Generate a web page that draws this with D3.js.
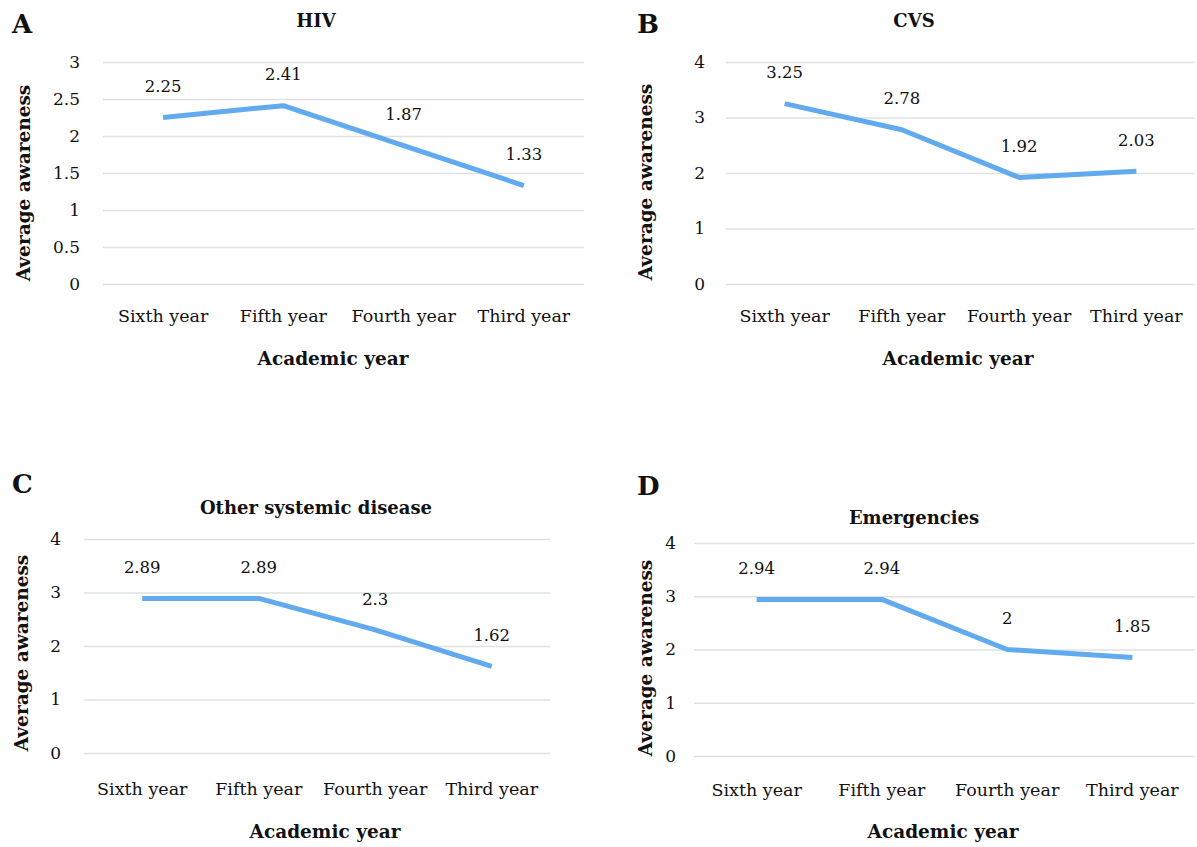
<!DOCTYPE html>
<html>
<head>
<meta charset="utf-8">
<script src="https://cdn.jsdelivr.net/npm/d3@7"></script>
<style>
    body { margin: 0; background: #ffffff; }
    svg text { font-family: "DejaVu Serif", serif; fill: #111; }
    .grid line { stroke: #dde2df; stroke-width: 1.3; }
    .grid .domain { display: none; }
</style>
</head>
<body>
<div id="Figure"></div>
<script>
// Categories on the x axis (same for every panel)
var years = ["Sixth year", "Fifth year", "Fourth year", "Third year"];

// Average awareness per panel
var hivValues = [2.25, 2.41, 1.87, 1.33];
var cvsValues = [3.25, 2.78, 1.92, 2.03];
var otherValues = [2.89, 2.89, 2.3, 1.62];
var emergencyValues = [2.94, 2.94, 2, 1.85];

// Panel titles and letters
var panelTitles = ["HIV", "CVS", "Other systemic disease", "Emergencies"];
var panelLetters = ["A", "B", "C", "D"];

// Y-axis ticks per panel
var hivTicks = [0, 0.5, 1, 1.5, 2, 2.5, 3];
var fourTicks = [0, 1, 2, 3, 4];

var svg = d3.select("#Figure")
    .append("svg")
    .attr("width", 1197)
    .attr("height", 847);

/**
 * Layout of each panel (pixel boxes only, values come from arrays above).
 */
var layouts = [
    {values: hivValues, ticks: hivTicks, x0: 103, x1: 584, top: 62, bottom: 284, tickX: 80,
        letterX: 12, letterY: 33, titleX: 316, titleY: 27, yTitleX: 24, yTitleY: 183, catY: 322, xTitleX: 333, xTitleY: 365},
    {values: cvsValues, ticks: fourTicks, x0: 726, x1: 1195, top: 62, bottom: 284, tickX: 705,
        letterX: 637, letterY: 33, titleX: 914, titleY: 27, yTitleX: 646, yTitleY: 182, catY: 322, xTitleX: 958, xTitleY: 365},
    {values: otherValues, ticks: fourTicks, x0: 84, x1: 550, top: 539, bottom: 753, tickX: 61,
        letterX: 12, letterY: 493, titleX: 316, titleY: 514, yTitleX: 22, yTitleY: 653, catY: 795, xTitleX: 325, xTitleY: 838},
    {values: emergencyValues, ticks: fourTicks, x0: 694, x1: 1195, top: 543, bottom: 756, tickX: 676,
        letterX: 637, letterY: 495, titleX: 914, titleY: 524, yTitleX: 646, yTitleY: 658, catY: 796, xTitleX: 943, xTitleY: 838}
];

function drawPanel(p, idx) {
    var g = svg.append("g");

    // Scales
    var xScale = d3.scaleBand()
        .domain(years)
        .range([p.x0, p.x1]);

    var yScale = d3.scaleLinear()
        .domain([0, d3.max(p.ticks)])
        .range([p.bottom, p.top]);

    // Horizontal gridlines
    g.append("g")
        .attr("class", "grid")
        .attr("transform", "translate(" + p.x0 + ",0)")
        .call(d3.axisRight(yScale).tickValues(p.ticks).tickSize(p.x1 - p.x0).tickFormat(""));

    // Y tick labels
    g.append("g")
        .selectAll("text")
        .data(p.ticks)
        .enter()
        .append("text")
        .attr("x", p.tickX)
        .attr("y", function (d) { return yScale(d); })
        .attr("dy", "0.35em")
        .attr("text-anchor", "end")
        .style("font-size", "17px")
        .text(function (d) { return d; });

    // Category labels
    g.append("g")
        .selectAll("text")
        .data(years)
        .enter()
        .append("text")
        .attr("x", function (d) { return xScale(d) + xScale.bandwidth() / 2; })
        .attr("y", p.catY)
        .attr("text-anchor", "middle")
        .style("font-size", "17.5px")
        .text(function (d) { return d; });

    // The line
    var line = d3.line()
        .x(function (d, i) { return xScale(years[i]) + xScale.bandwidth() / 2; })
        .y(function (d) { return yScale(d); });

    g.append("path")
        .datum(p.values)
        .attr("d", line)
        .attr("fill", "none")
        .attr("stroke", "#62aaee")
        .attr("stroke-width", 5)
        .attr("stroke-linejoin", "round");

    // Data labels above the points
    g.append("g")
        .selectAll("text")
        .data(p.values)
        .enter()
        .append("text")
        .attr("x", function (d, i) { return xScale(years[i]) + xScale.bandwidth() / 2; })
        .attr("y", function (d) { return yScale(d) - 31; })
        .attr("dy", "0.35em")
        .attr("text-anchor", "middle")
        .style("font-size", "16.5px")
        .text(function (d) { return d; });

    // Panel letter
    g.append("text")
        .attr("x", p.letterX)
        .attr("y", p.letterY)
        .style("font-size", "26px")
        .style("font-weight", "bold")
        .text(panelLetters[idx]);

    // Panel title
    g.append("text")
        .attr("x", p.titleX)
        .attr("y", p.titleY)
        .attr("text-anchor", "middle")
        .style("font-size", "18px")
        .style("font-weight", "bold")
        .text(panelTitles[idx]);

    // X axis title
    g.append("text")
        .attr("x", p.xTitleX)
        .attr("y", p.xTitleY)
        .attr("text-anchor", "middle")
        .style("font-size", "18.5px")
        .style("font-weight", "bold")
        .text("Academic year");

    // Y axis title
    g.append("text")
        .attr("transform", "translate(" + p.yTitleX + "," + p.yTitleY + ")rotate(-90)")
        .attr("dy", "0.35em")
        .attr("text-anchor", "middle")
        .style("font-size", "18.5px")
        .style("font-weight", "bold")
        .text("Average awareness");
}

layouts.forEach(function (p, i) {
    drawPanel(p, i);
});
</script>
</body>
</html>
